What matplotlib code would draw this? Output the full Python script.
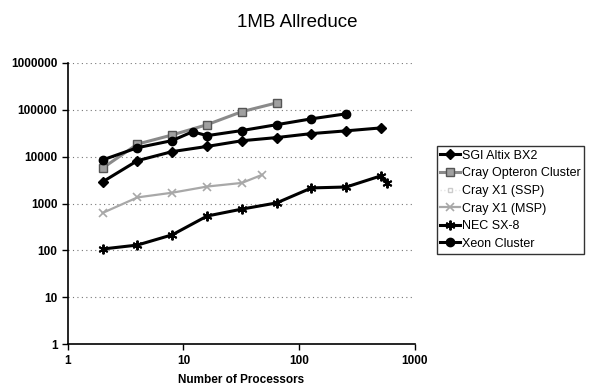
import numpy as np
import matplotlib.pyplot as plt

# ---- data ----
sgi_x = [2, 4, 8, 16, 32, 64, 128, 256, 512]
sgi_y = [2900, 8200, 12800, 16500, 21800, 25500, 31000, 35500, 41000]

opteron_x = [2, 4, 8, 16, 32, 64]
opteron_y = [5700, 18500, 29000, 48000, 91000, 140000]

ssp_x = []
ssp_y = []

msp_x = [2, 4, 8, 16, 32, 48]
msp_y = [630, 1350, 1700, 2300, 2750, 4100]

nec_x = [2, 4, 8, 16, 32, 64, 128, 256, 512, 576]
nec_y = [107, 130, 215, 540, 760, 1030, 2150, 2250, 3900, 2750]

xeon_x = [2, 4, 8, 12, 16, 32, 64, 128, 256]
xeon_y = [8500, 15500, 22000, 34000, 28000, 36000, 48000, 64000, 82000]

y_ticks = [1, 10, 100, 1000, 10000, 100000, 1000000]
x_ticks = [1, 10, 100, 1000]

plt.rcParams['font.family'] = ['Liberation Sans', 'DejaVu Sans']

fig = plt.figure(figsize=(5.95, 3.88), dpi=100)
ax = fig.add_axes([0.114, 0.113, 0.583, 0.725])

ax.plot(sgi_x, sgi_y, color='black', lw=2.2, marker='D', ms=5, label='SGI Altix BX2')
ax.plot(opteron_x, opteron_y, color='#8a8a8a', lw=2.2, marker='s', ms=6,
        mfc='#a0a0a0', mec='#555555', label='Cray Opteron Cluster')
ax.plot(ssp_x, ssp_y, color='#e6e6e6', lw=1, ls=':', marker='s', ms=3,
        mfc='white', mec='#cccccc', label='Cray X1 (SSP)')
ax.plot(msp_x, msp_y, color='#a8a8a8', lw=1.6, marker='x', ms=6, mew=1.2,
        label='Cray X1 (MSP)')
ax.plot(nec_x, nec_y, color='black', lw=2.2, marker=(6, 2, 0), ms=7, mew=1.4,
        label='NEC SX-8')
ax.plot(xeon_x, xeon_y, color='black', lw=2.2, marker='o', ms=6, label='Xeon Cluster')

ax.set_xscale('log')
ax.set_yscale('log')
ax.set_xlim(1, 1000)
ax.set_ylim(1, 1000000)
ax.set_xticks(x_ticks)
ax.set_xticklabels([str(v) for v in x_ticks])
ax.set_yticks(y_ticks)
ax.set_yticklabels([str(v) for v in y_ticks])
ax.minorticks_off()

ax.yaxis.grid(True, ls=(0, (1, 3)), color='#777777', lw=0.8)
ax.set_axisbelow(True)
for side in ['top', 'right']:
    ax.spines[side].set_visible(False)
for side in ['left', 'bottom']:
    ax.spines[side].set_linewidth(1.2)

ax.tick_params(axis='both', labelsize=8.5, length=4, width=1, direction='out')
for lab in ax.get_xticklabels() + ax.get_yticklabels():
    lab.set_fontweight('bold')

ax.set_xlabel('Number of Processors', fontsize=8.5, fontweight='bold', labelpad=5)
fig.text(0.5, 0.943, '1MB Allreduce', ha='center', va='center', fontsize=13.5)

leg = ax.legend(loc='upper left', bbox_to_anchor=(0.734, 0.624),
                bbox_transform=fig.transFigure, fontsize=9, frameon=True,
                fancybox=False, edgecolor='black', handlelength=1.6,
                handletextpad=0.1, borderpad=0.3, labelspacing=0.45,
                borderaxespad=0)
leg.get_frame().set_linewidth(1.0)

fig.savefig('out.png', dpi=100)
